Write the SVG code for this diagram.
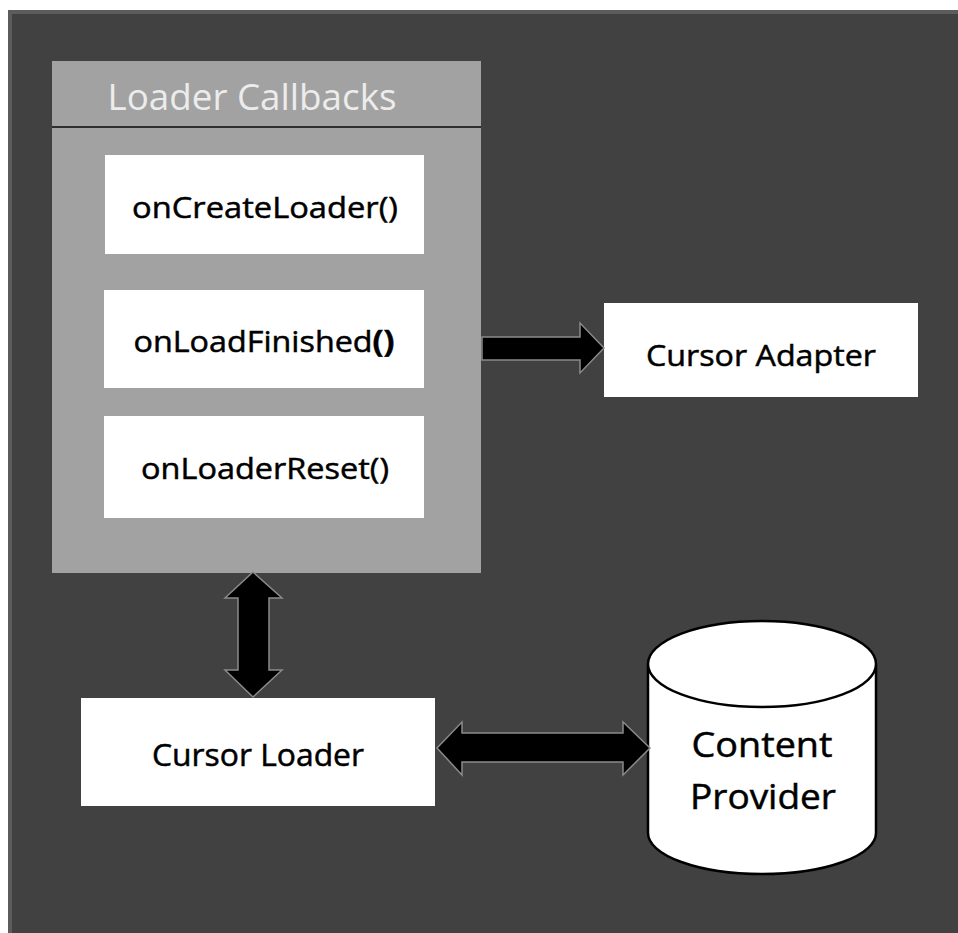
<svg xmlns="http://www.w3.org/2000/svg" width="958" height="933" viewBox="0 0 958 933">
<style>
.lbl{font-family:"Open Sans","Liberation Sans",sans-serif;fill:#000;stroke:#000;stroke-width:0.5;text-anchor:middle}
.box{fill:#fff}
.arrow{fill:#000;stroke:#8a8a8a;stroke-width:1.5;stroke-linejoin:miter}
</style>
<rect x="0" y="0" width="958" height="933" fill="#fff"/>
<rect x="8" y="10" width="950" height="923" fill="#5c5c5c"/>
<rect x="12" y="14" width="946" height="919" fill="#414141"/>
<g id="loader-callbacks">
<rect x="52" y="61" width="429" height="512" fill="#a2a2a2"/>
<line x1="52" y1="127" x2="481" y2="127" stroke="#2e2e2e" stroke-width="2"/>
<text x="252" y="110" font-family="'Open Sans','Liberation Sans',sans-serif" font-size="36" fill="#ececec" text-anchor="middle" textLength="289" lengthAdjust="spacingAndGlyphs">Loader Callbacks</text>
</g>
<g id="onCreateLoader">
<rect class="box" x="105" y="155" width="319" height="99"/>
<text class="lbl" x="265" y="218" font-size="30" textLength="266" lengthAdjust="spacingAndGlyphs">onCreateLoader()</text>
</g>
<g id="onLoadFinished">
<rect class="box" x="104" y="290" width="320" height="98"/>
<text class="lbl" x="264" y="352" font-size="30" textLength="261" lengthAdjust="spacingAndGlyphs">onLoadFinished<tspan font-weight="bold">()</tspan></text>
</g>
<g id="onLoaderReset">
<rect class="box" x="104" y="416" width="320" height="102"/>
<text class="lbl" x="265" y="479" font-size="30" textLength="248" lengthAdjust="spacingAndGlyphs">onLoaderReset()</text>
</g>
<g id="cursor-adapter">
<rect class="box" x="604" y="303" width="314" height="94"/>
<text class="lbl" x="761" y="366" font-size="30" textLength="230" lengthAdjust="spacingAndGlyphs">Cursor Adapter</text>
</g>
<g id="cursor-loader">
<rect class="box" x="81" y="698" width="354" height="108"/>
<text class="lbl" x="258" y="766" font-size="31" textLength="212" lengthAdjust="spacingAndGlyphs">Cursor Loader</text>
</g>
<g id="content-provider">
<path d="M648,665 L648,833 A114,41 0 0 0 876,833 L876,665" fill="#fff" stroke="#000" stroke-width="2.5"/>
<ellipse cx="762" cy="664" rx="114" ry="43" fill="#fff" stroke="#000" stroke-width="2.5"/>
<text class="lbl" x="762" y="757" font-size="35" textLength="141" lengthAdjust="spacingAndGlyphs">Content</text>
<text class="lbl" x="763" y="809" font-size="35" textLength="146" lengthAdjust="spacingAndGlyphs">Provider</text>
</g>
<g id="connectors">
<polygon class="arrow" points="482,337 580,337 580,323 604,348 580,373 580,360 482,360"/>
<polygon class="arrow" points="253,572 282,598 269,598 269,670 282,670 253,697 225,670 238,670 238,598 225,598"/>
<polygon class="arrow" points="437,748 462,722 462,733 623,733 623,722 650,748 623,775 623,762 462,762 462,775"/>
</g>
</svg>
